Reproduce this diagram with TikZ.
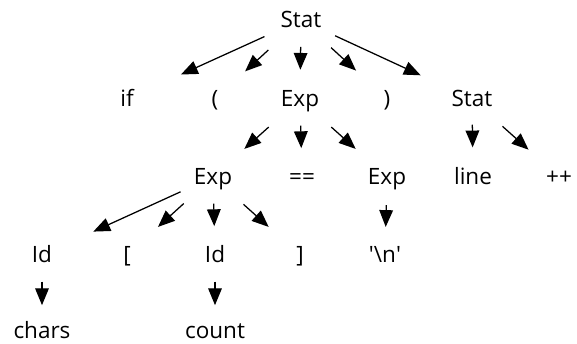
\documentclass[tikz,border=0pt]{standalone}
\usepackage{fontspec}
\setmainfont{Open Sans}
\usepackage{tikz}
\usetikzlibrary{arrows.meta,calc}

\begin{document}
\begin{tikzpicture}[x=0.025cm,y=-0.025cm,
    tok/.style={font=\fontsize{16pt}{19pt}\selectfont,inner sep=0pt,
                text height=0.35cm,text depth=0pt,anchor=base},
    arr/.style={-{Triangle[length=4.2mm,width=3.4mm]},line width=0.9pt}]
  \useasboundingbox (0,0) rectangle (577,343);
  % tokens of the parse tree, row by row
  \foreach \nm/\x/\y/\lbl in {stat/301/27/{Stat},
      kwif/127/106/{if},lpar/215/106/{(},exp/300/106/{Exp},rpar/387/106/{)},stattwo/472/106/{Stat},
      expl/213/184/{Exp},eqeq/302/184/{==},expr/387/184/{Exp},line/473/184/{line},incr/559/184/{++},
      idl/42/262/{Id},lbrk/127/262/{[},idr/215/262/{Id},rbrk/300/262/{]},
      nl/385/262/{\textquotesingle\textbackslash n\textquotesingle},
      chars/42/338/{chars},count/215/338/{count}}{
    \node[tok] (\nm) at (\x,\y) {\lbl};
  }
  % edges: parent/child/start/end along the centre line
  \foreach \p/\c/\s/\e in {stat/kwif/.21/.69,stat/lpar/.38/.65,stat/exp/.34/.63,
      stat/rpar/.35/.64,stat/stattwo/.20/.70,
      exp/expl/.36/.64,exp/eqeq/.34/.63,exp/expr/.36/.64,
      stattwo/line/.33/.62,stattwo/incr/.35/.65,
      expl/idl/.19/.70,expl/lbrk/.34/.64,expl/idr/.34/.63,expl/rbrk/.35/.64,
      expr/nl/.36/.64,idl/chars/.35/.66,idr/count/.35/.66}{
    \draw[arr] ($(\p)!\s!(\c)$) -- ($(\p)!\e!(\c)$);
  }
\end{tikzpicture}
\end{document}
